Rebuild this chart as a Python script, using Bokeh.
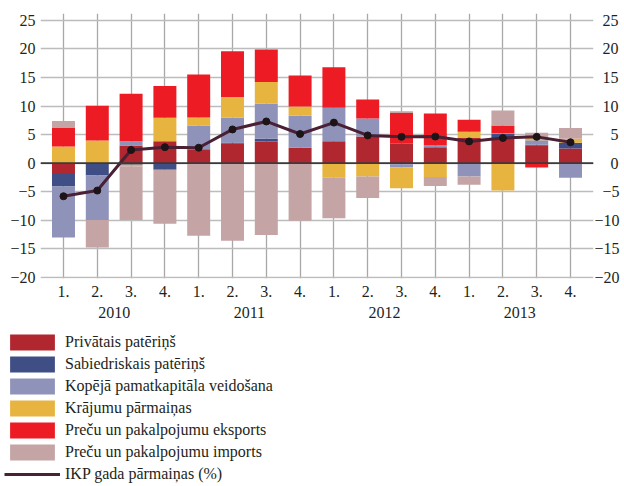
from bokeh.plotting import figure
from bokeh.layouts import column
from bokeh.models import (ColumnDataSource, FactorRange, FixedTicker, LinearAxis,
                          Legend, LegendItem, Span, Range1d)
from bokeh.embed import file_html
from bokeh.resources import INLINE

years = ["2010", "2011", "2012", "2013"]
quarters = ["1.", "2.", "3.", "4."]

private = [-1.74, 0.0, 3.1, 3.85, 2.45, 3.39, 3.8, 2.69, 3.85, 4.67, 3.39, 2.8, 4.38, 4.4, 3.04, 2.57]
public = [-2.33, -2.15, -0.3, -1.15, 0.0, 0.23, 0.46, -0.15, -0.1, 0.0, -0.2, 0.0, 0.0, 0.7, 0.16, 0.99]
gfcf = [-8.93, -7.8, 0.75, 0.0, 4.15, 4.32, 6.14, 5.61, 5.85, 3.16, -0.5, 0.3, -2.35, 0.15, 0.8, -2.55]
inventories = [2.92, 3.97, -0.25, 4.09, 1.4, 3.63, 3.8, 1.63, -2.45, -2.33, -3.7, -2.44, 1.11, -4.8, 0.5, 0.7]
exports = [3.21, 6.08, 8.3, 5.55, 7.54, 8.0, 5.7, 5.43, 7.1, 3.33, 5.37, 5.6, 2.11, 1.35, -0.75, 0.0]
imports = [1.23, -4.83, -9.4, -9.45, -12.7, -13.6, -12.6, -9.95, -7.1, -3.77, 0.34, -1.56, -1.45, 2.6, 0.8, 1.87]
gdp = [-5.8, -4.8, 2.3, 2.8, 2.7, 5.9, 7.3, 5.1, 7.1, 4.85, 4.6, 4.65, 3.8, 4.4, 4.6, 3.65]

series_names = ["Privātais patēriņš", "Sabiedriskais patēriņš", "Kopējā pamatkapitāla veidošana",
                "Krājumu pārmaiņas", "Preču un pakalpojumu eksports", "Preču un pakalpojumu imports"]
line_name = "IKP gada pārmaiņas (%)"
colors = ["#b1272f", "#404e86", "#8f93b9", "#e8b440", "#ed1c24", "#c4a4a4"]
line_color = "#4a2035"

y_ticks = [-20, -15, -10, -5, 0, 5, 10, 15, 20, 25]
y_tick_labels = ["\u221220", "\u221215", "\u221210", "\u22125", "0", "5", "10", "15", "20", "25"]

FONT = "Liberation Serif"
TXT = "#231f20"
FS = "\u2007"  # figure space, to right-align the labels of the right axis


def right_aligned(label, width=3):
    n = width - len(label)
    return FS * n + label if n > 0 else label


factors = [(y, q) for y in years for q in quarters]
series = [private, public, gfcf, inventories, exports, imports]
keys = ["s%d" % i for i in range(len(series))]
data = {"x": factors, "gdp": gdp}
for k, s in zip(keys, series):
    data[k + "p"] = [v if v > 0 else 0.0 for v in s]
    data[k + "n"] = [v if v < 0 else 0.0 for v in s]
src = ColumnDataSource(data)

xr = FactorRange(*factors, factor_padding=0, group_padding=0,
                 range_padding=0.18, range_padding_units="absolute")
p = figure(width=624, height=326, x_range=xr, y_range=Range1d(-20.2, 26.2),
           output_backend="svg", toolbar_location=None,
           min_border_left=40, min_border_right=31, min_border_top=13, min_border_bottom=48)
p.frame_align = False
p.outline_line_color = None
p.background_fill_color = "white"
p.border_fill_color = "white"

p.xgrid.grid_line_color = "#a8a8a8"
p.xgrid.grid_line_width = 1.3
p.ygrid.ticker = FixedTicker(ticks=y_ticks)
p.ygrid.grid_line_color = "#bcbcbc"
p.ygrid.grid_line_width = 1.5

pos = p.vbar_stack([k + "p" for k in keys], x="x", width=0.68, color=colors,
                   line_color=None, source=src)
neg = p.vbar_stack([k + "n" for k in keys], x="x", width=0.68, color=colors,
                   line_color=None, source=src)

p.add_layout(Span(location=0, dimension="width", line_color="#3a3a3a", line_width=1.6))

ln = p.line("x", "gdp", source=src, line_color=line_color, line_width=3)
p.scatter("x", "gdp", source=src, size=7, color="#1c1416")

p.yaxis.ticker = FixedTicker(ticks=y_ticks)
p.yaxis.major_label_overrides = dict(zip(y_ticks, y_tick_labels))
ra = LinearAxis(ticker=FixedTicker(ticks=y_ticks))
ra.major_label_overrides = {t: right_aligned(l) for t, l in zip(y_ticks, y_tick_labels)}
p.add_layout(ra, "right")
for ax in (p.yaxis[0], ra):
    ax.axis_line_color = None
    ax.major_tick_line_color = None
    ax.minor_tick_line_color = None
    ax.major_tick_out = 0
    ax.major_tick_in = 0
    ax.minor_tick_out = 0
    ax.major_label_text_font = FONT
    ax.major_label_text_font_size = "16px"
    ax.major_label_text_color = TXT
p.yaxis[0].major_label_standoff = 5
ra.major_label_standoff = 1

xa = p.xaxis[0]
xa.axis_line_color = None
xa.major_tick_line_color = None
xa.major_tick_out = 0
xa.major_tick_in = 0
xa.separator_line_color = None
xa.major_label_text_font = FONT
xa.major_label_text_font_size = "16px"
xa.major_label_text_line_height = 1.0
xa.major_label_text_color = TXT
xa.major_label_standoff = 7
xa.group_text_font = FONT
xa.group_text_font_size = "16px"
xa.group_text_line_height = 1.0
xa.group_text_font_style = "normal"
xa.group_text_color = TXT

# legend panel: same data, drawn out of view so that only the legend shows
lg = figure(width=624, height=160, x_range=xr, y_range=Range1d(1000, 1001),
            output_backend="svg", toolbar_location=None,
            x_axis_location=None, y_axis_location=None,
            min_border_left=0, min_border_right=0, min_border_top=0, min_border_bottom=0)
lg.frame_align = False
lg.grid.visible = False
lg.outline_line_color = None
items = []
for k, n, c in zip(keys, series_names, colors):
    r = lg.vbar(x="x", top=k + "p", width=0.68, color=c, line_color=None, source=src)
    items.append(LegendItem(label=n, renderers=[r]))
rl = lg.line(x="x", y="gdp", source=src, line_color=line_color, line_width=3)
items.append(LegendItem(label=line_name, renderers=[rl]))
leg = Legend(items=items, location=(4, 2), orientation="vertical",
             glyph_width=56, glyph_height=20, label_height=16, label_standoff=5,
             spacing=2, padding=0, margin=0, border_line_color=None,
             background_fill_alpha=0, label_text_font=FONT,
             label_text_font_size="16px", label_text_color=TXT)
lg.add_layout(leg, "center")

open("out.html", "w").write(file_html(column(p, lg, spacing=0), INLINE))
